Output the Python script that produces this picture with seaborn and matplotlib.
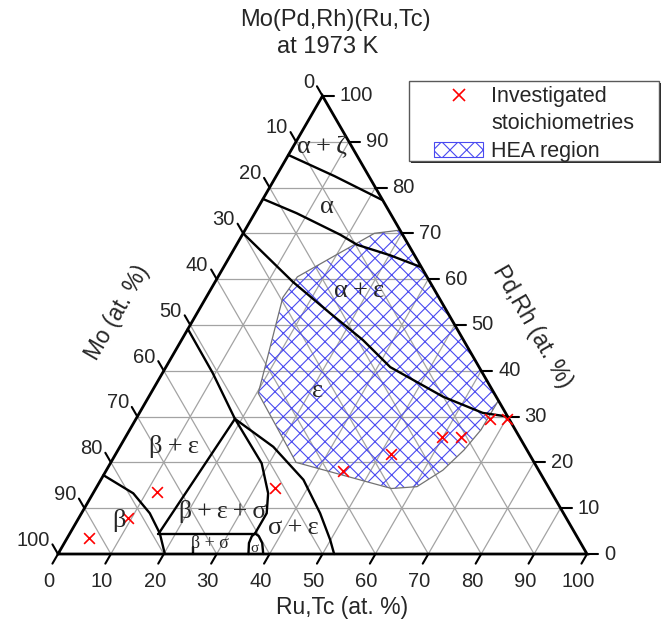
import numpy as np
import pandas as pd
import seaborn as sns
import matplotlib.pyplot as plt
from matplotlib.patches import Polygon, Patch, Rectangle
from matplotlib.lines import Line2D

# compositions, (Ru,Tc) and (Pd,Rh) in at. %
ticks = [0, 10, 20, 30, 40, 50, 60, 70, 80, 90, 100]

az_ru = [0, 11, 22.6]                       # alpha+zeta / alpha
az_pd = [87.1, 82.5, 77.3]
aae_ru = [0, 7.9, 18.5, 22.8, 30.2, 37.1]   # alpha / alpha+eps
aae_pd = [77.5, 74.4, 69.7, 67.5, 65.2, 62.7]
ae_ru = [0, 14.7, 25.1, 34.3, 42.4, 55.7, 64.9, 70.0]   # alpha+eps / eps
ae_pd = [70.0, 59.4, 52.6, 46.7, 40.8, 34.3, 30.8, 30.0]
be_ru = [0, 9.5, 18.7]                      # beta+eps / eps
be_pd = [49.1, 39.5, 29.5]
se_ru = [18.7, 29.0, 38.3, 45.1, 49.9, 52.2]            # sigma+eps / eps
se_pd = [29.5, 23.4, 16.2, 8.9, 3.1, 0]
bes_ru = [18.7, 28.6, 33.1, 35.0, 35.0]     # beta+eps+sigma / sigma+eps
bes_pd = [29.5, 19.8, 13.25, 8.9, 4.5]
bes_left_ru = [18.7, 16.8]                  # beta+eps / beta+eps+sigma
bes_left_pd = [29.5, 4.4]
bs_ru = [16.8, 35.0]                        # beta+eps+sigma / beta+sigma
bs_pd = [4.4, 4.4]
sig_ru = [36.0, 34.9, 34.7, 35.0, 36.0, 37.4, 38.8]     # sigma dome
sig_pd = [0, 2.4, 3.9, 4.5, 3.9, 2.4, 0]
b_ru = [0, 7.6, 12.9, 17.0, 20.2]           # beta / beta+eps
b_pd = [17.2, 13.25, 8.9, 4.5, 0]
tick_ru = [24.8, 25.6]
tick_pd = [1.6, 0]

hea_ru = [29.3, 24.8, 15.0, 14.5, 19.1, 20.3, 35.0, 55.9, 60.5, 63.6, 65.4, 66.4, 66.5]
hea_pd = [70.7, 70.0, 60.5, 56.0, 39.5, 35.1, 20.0, 14.3, 14.7, 18.3, 22.7, 27.1, 33.5]

inv_ru = [4.1, 9.3, 12.0, 33.8, 44.7, 52.1, 59.7, 63.3, 67.0, 70.2]
inv_pd = [3.6, 7.8, 13.6, 14.3, 18.2, 21.8, 25.6, 25.6, 29.4, 29.4]

H = np.sqrt(3) / 2


def xy(ru, pd_):
    ru = np.asarray(ru, float)
    pd_ = np.asarray(pd_, float)
    return ru + pd_ / 2, pd_ * H


sns.set_theme(style="white")
plt.rcParams['font.family'] = ['Liberation Sans', 'DejaVu Sans']
plt.rcParams['hatch.linewidth'] = 0.8

fig = plt.figure(figsize=(6.65, 6.25), dpi=100)
ax = fig.add_axes([0, 0, 1, 1])
ax.set_xlim(-10.96, 114.74)
ax.set_ylim(-13.42, 104.73)
ax.axis('off')

# grid
for k in ticks[1:-1]:
    for a, b in [((0, k), (100 - k, k)), ((k, 0), (k, 100 - k)), ((100 - k, 0), (0, 100 - k))]:
        gx, gy = xy([a[0], b[0]], [a[1], b[1]])
        ax.plot(gx, gy, color='0.64', lw=0.9, zorder=1)

# HEA region
px, py = xy(hea_ru, hea_pd)
pts = np.column_stack([px, py])
ax.add_patch(Polygon(pts, closed=True, facecolor='none', edgecolor='#4a4af0',
                     hatch='xx', lw=0, zorder=2))
ax.add_patch(Polygon(pts, closed=True, fill=False, edgecolor='0.45', lw=0.9, zorder=2.5))

# phase boundaries
bounds = [(az_ru, az_pd), (aae_ru, aae_pd), (ae_ru, ae_pd), (be_ru, be_pd),
          (se_ru, se_pd), (bes_ru, bes_pd), (bes_left_ru, bes_left_pd),
          (bs_ru, bs_pd), (sig_ru, sig_pd), (b_ru, b_pd), (tick_ru, tick_pd)]
for ru, pdv in bounds:
    bx, by = xy(ru, pdv)
    sns.lineplot(x=bx, y=by, sort=False, estimator=None, color='black', lw=1.7, ax=ax, zorder=3)

# triangle frame
tx, ty = xy([0, 100, 0, 0], [0, 0, 100, 0])
ax.plot(tx, ty, color='black', lw=2, zorder=4, solid_joinstyle='miter')

# ticks and labels
tl = 2.1
for t in ticks:
    # bottom, Ru,Tc
    x0, y0 = xy(t, 0)
    ax.plot([x0, x0 - 0.5 * tl], [y0, y0 - H * tl], color='black', lw=1.5, zorder=4)
    ax.text(x0 - 1.7, y0 - 5.2, str(t), ha='center', va='center', fontsize=14.5)
    # right, Pd,Rh
    x0, y0 = xy(100 - t, t)
    ax.plot([x0, x0 + tl], [y0, y0], color='black', lw=1.5, zorder=4)
    ax.text(x0 + 3.2, y0, str(t), ha='left', va='center', fontsize=14.5)
    # left, Mo
    x0, y0 = xy(0, 100 - t)
    ax.plot([x0, x0 - 0.5 * tl], [y0, y0 + H * tl], color='black', lw=1.5, zorder=4)
    ax.text(x0 - 1.6, y0 + 2.6, str(t), ha='right', va='center', fontsize=14.5)

# investigated stoichiometries
mx, my = xy(inv_ru, inv_pd)
sns.scatterplot(x=mx, y=my, marker='x', color='red', s=60, linewidth=1.2, ax=ax, zorder=5)

# phase labels
serif = ['Liberation Serif', 'DejaVu Serif']
ts = "\u2009+\u2009"
labels = [("α" + ts + "ζ", 49.9, 76.9, 19), ("α", 50.9, 65.6, 19), ("α" + ts + "ε", 56.9, 49.7, 19),
          ("ε", 49.0, 30.8, 19), ("β" + ts + "ε", 21.9, 20.4, 19), ("β", 11.5, 6.4, 19),
          ("β" + ts + "ε" + ts + "σ", 31.2, 8.1, 18.5), ("β + σ", 28.7, 1.9, 13),
          ("σ", 37.1, 1.1, 11), ("σ" + ts + "ε", 44.4, 4.9, 19)]
for s, x, y, fs in labels:
    ax.text(x, y, s, ha='center', va='center', fontsize=fs, family=serif, zorder=6)

# axis titles
ax.text(53.7, -10.2, "Ru,Tc (at. %)", ha='center', va='center', fontsize=16.5)
ax.text((117 - 58) / 5.29, (554 - 313) / 5.29, "Mo (at. %)", ha='center', va='center',
        fontsize=16.5, rotation=60)
ax.text((532 - 58) / 5.29, (554 - 327) / 5.29, "Pd,Rh (at. %)", ha='center', va='center',
        fontsize=16.5, rotation=-60)
ax.text(52.4, 100.9, "Mo(Pd,Rh)(Ru,Tc)", ha='center', va='center', fontsize=17)
ax.text(51.0, 95.8, "at 1973 K", ha='center', va='center', fontsize=17)

# legend frame with a dark drop edge
ax.add_patch(Rectangle((411 / 665, 1 - 163 / 625), 250 / 665, 80 / 625,
                       transform=fig.transFigure, facecolor='0.15', edgecolor='none',
                       zorder=7, clip_on=False))
ax.add_patch(Rectangle((409 / 665, 1 - 161 / 625), 250 / 665, 80 / 625,
                       transform=fig.transFigure, facecolor='white', edgecolor='0.35',
                       lw=1.0, zorder=8, clip_on=False))
handles = [Line2D([], [], marker='x', color='red', ls='none', ms=9, mew=1.2),
           Line2D([], [], ls='none'),
           Patch(facecolor='white', edgecolor='#4a4af0', hatch='xx', lw=0.8)]
leg = ax.legend(handles, ['Investigated', 'stoichiometries', 'HEA region'],
                loc='center', bbox_to_anchor=(534 / 665, 1 - 124 / 625),
                bbox_transform=fig.transFigure, fontsize=15.5, frameon=False,
                labelspacing=0.3, handlelength=2.3, handletextpad=0.35,
                borderpad=0, borderaxespad=0)
leg.set_zorder(9)

fig.savefig('out.png', dpi=100)
